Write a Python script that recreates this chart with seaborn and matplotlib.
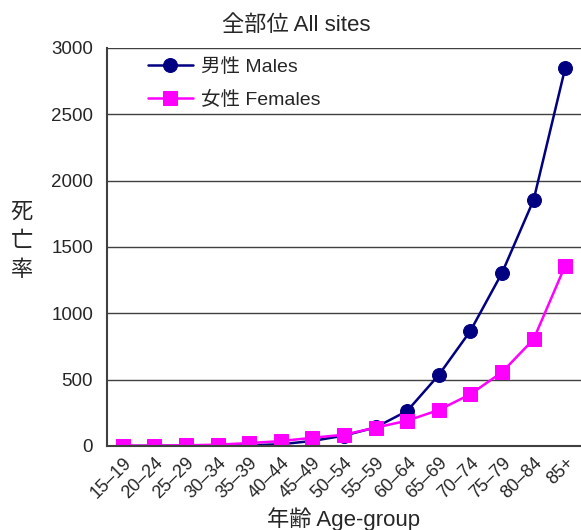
import numpy as np
import pandas as pd
import matplotlib.pyplot as plt
import seaborn as sns

# Data
age_groups = ['15–19', '20–24', '25–29', '30–34', '35–39', '40–44', '45–49', '50–54',
              '55–59', '60–64', '65–69', '70–74', '75–79', '80–84', '85+']
males = [0.5, 1, 2, 3, 5, 13, 38, 78, 140, 264, 535, 867, 1304, 1854, 2849]
females = [2, 3, 5, 10, 22, 37, 62, 85, 138, 191, 271, 390, 556, 804, 1359]

df = pd.DataFrame({'pos': np.arange(len(age_groups)), 'Males': males, 'Females': females})

sns.set_style("white")
plt.rcParams['font.family'] = ['Liberation Sans', 'Noto Sans CJK JP', 'DejaVu Sans']

fig = plt.figure(figsize=(5.81, 5.30), dpi=100)
ax = fig.add_axes([0.184, 0.1585, 0.816, 0.751])

sns.lineplot(x='pos', y='Males', data=df, ax=ax, color='#000080', marker='o',
             markersize=10, markeredgecolor='#000080', linewidth=1.8, label='男性 Males')
sns.lineplot(x='pos', y='Females', data=df, ax=ax, color='#ff00ff', marker='s',
             markersize=9.5, markeredgecolor='#ff00ff', linewidth=1.8, label='女性 Females')

ax.set_xlim(-0.5, len(age_groups) - 0.5)
ax.set_ylim(0, 3000)
ax.set_yticks(range(0, 3001, 500))
ax.yaxis.grid(True, color='#404040', linewidth=1)
ax.xaxis.grid(False)

ax.set_xticks(df['pos'])
ax.set_xticklabels(age_groups, rotation=45, ha='right', rotation_mode='anchor', fontsize=13)
ax.set_xticks(np.arange(0.5, len(age_groups) - 0.5, 1), minor=True)
ax.tick_params(axis='x', which='major', length=0, pad=6)
ax.tick_params(axis='x', which='minor', direction='in', length=5, color='black')
ax.tick_params(axis='y', length=0, labelsize=13.5, pad=10)

for side in ['top', 'right']:
    ax.spines[side].set_visible(False)
for side in ['left', 'bottom']:
    ax.spines[side].set_color('#404040')
    ax.spines[side].set_linewidth(1.5)

ax.set_title('全部位 All sites', fontsize=16, pad=12, x=0.4)
ax.set_xlabel('年齢 Age-group', fontsize=16, labelpad=4)
ax.set_ylabel('死\n亡\n率', fontsize=16, rotation=0, va='center', linespacing=1.5)
ax.yaxis.set_label_coords(-0.18, 0.515)

ax.legend(loc='upper left', bbox_to_anchor=(0.05, 1.018), frameon=False, fontsize=14,
          handlelength=2.3, labelspacing=0.75, handletextpad=0.4)

plt.savefig('out.png', dpi=100)
